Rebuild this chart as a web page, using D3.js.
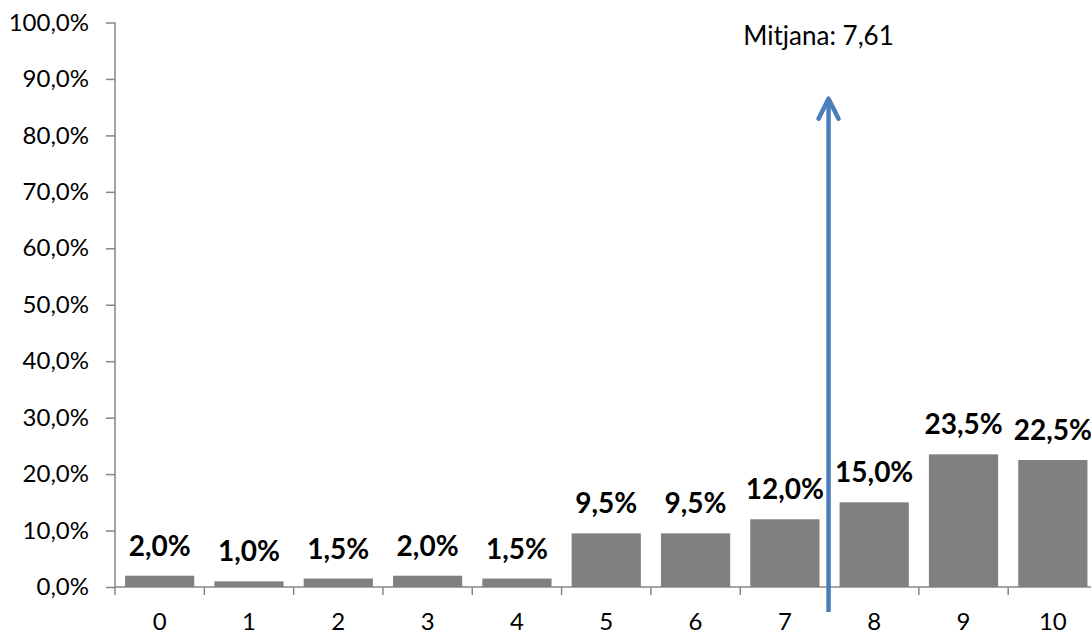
<!DOCTYPE html>
<html>
<head>
<meta charset="utf-8">
<script src="https://cdn.jsdelivr.net/npm/d3@7"></script>
<style>
  body { margin: 0; background: #fff; }
  svg { display: block; font-family: Lato, "Open Sans", sans-serif; }
</style>
</head>
<body>
<svg id="chart" width="1091" height="634"></svg>
<script>
// chart values
var categories = ["0", "1", "2", "3", "4", "5", "6", "7", "8", "9", "10"];
var percents = [2.0, 1.0, 1.5, 2.0, 1.5, 9.5, 9.5, 12.0, 15.0, 23.5, 22.5];
var yTicks = [0, 10, 20, 30, 40, 50, 60, 70, 80, 90, 100];
var meanLabel = "Mitjana: 7,61";
var arrowBetween = ["7", "8"]; // arrow sits on the boundary between these two

var svg = d3.select("#chart"),
    width = +svg.attr("width"),
    height = +svg.attr("height");

var plotLeft = 115, plotRight = 1097.5, plotTop = 22.5, plotBottom = 587;
var axisColor = "#868686";

var locale = d3.formatLocale({decimal: ",", thousands: ".", grouping: [3], currency: ["", "€"]});
var fmt = locale.format(".1f");

var x = d3.scaleBand()
    .domain(categories)
    .range([plotLeft, plotRight])
    .paddingInner(0.225)
    .paddingOuter(0.1125);

var y = d3.scaleLinear()
    .domain([0, 100])
    .range([plotBottom, plotTop]);

var step = x.step();
var gap = x.paddingInner() * step / 2;

// y axis
var yAxis = svg.append("g")
    .attr("transform", "translate(" + plotLeft + ",0)")
    .call(d3.axisLeft(y).tickValues(yTicks).tickSize(9).tickSizeOuter(0).tickPadding(17)
      .tickFormat(function(d) { return fmt(d) + "%"; }));
yAxis.select(".domain").remove();
yAxis.selectAll(".tick line").attr("stroke", axisColor).attr("stroke-width", 1.5);
yAxis.selectAll(".tick text")
    .attr("fill", "#000")
    .style("font-size", "24px")
    .style("font-family", "Lato, 'Open Sans', sans-serif");

svg.append("line")
    .attr("x1", plotLeft).attr("x2", plotLeft)
    .attr("y1", plotTop).attr("y2", plotBottom + 8)
    .attr("stroke", axisColor).attr("stroke-width", 1.5);

// x axis line and boundary ticks
svg.append("line")
    .attr("x1", plotLeft).attr("x2", plotRight)
    .attr("y1", plotBottom).attr("y2", plotBottom)
    .attr("stroke", axisColor).attr("stroke-width", 1.5);

svg.append("g").selectAll("line")
    .data(categories.slice(1))
    .enter()
    .append("line")
    .attr("x1", function(d) { return x(d) - gap; })
    .attr("x2", function(d) { return x(d) - gap; })
    .attr("y1", plotBottom).attr("y2", plotBottom + 8)
    .attr("stroke", axisColor).attr("stroke-width", 1.5);

svg.append("g").selectAll("text")
    .data(categories)
    .enter()
    .append("text")
    .attr("x", function(d) { return x(d) + x.bandwidth() / 2; })
    .attr("y", 630)
    .attr("text-anchor", "middle")
    .style("font-size", "24px")
    .text(function(d) { return d; });

// bars
var rows = categories.map(function(c, i) { return {cat: c, value: percents[i]}; });

svg.append("g").selectAll("rect")
    .data(rows)
    .enter()
    .append("rect")
    .attr("x", function(d) { return x(d.cat); })
    .attr("y", function(d) { return y(d.value); })
    .attr("width", x.bandwidth())
    .attr("height", function(d) { return y(0) - y(d.value); })
    .attr("fill", "#808080");

svg.append("g").selectAll("text")
    .data(rows)
    .enter()
    .append("text")
    .attr("x", function(d) { return x(d.cat) + x.bandwidth() / 2; })
    .attr("y", function(d) { return y(d.value) - 20; })
    .attr("text-anchor", "middle")
    .style("font-size", "28px")
    .style("font-weight", "bold")
    .text(function(d) { return fmt(d.value) + "%"; });

// mean arrow
var ax = x(arrowBetween[1]) - gap - 1;
var tipY = y(86.5);
var arrowColor = "#4a7ebb";

svg.append("line")
    .attr("x1", ax).attr("x2", ax)
    .attr("y1", plotBottom + 25).attr("y2", tipY + 2)
    .attr("stroke", arrowColor).attr("stroke-width", 4.5);

svg.append("path")
    .attr("d", d3.line()([[ax - 10, tipY + 20], [ax, tipY], [ax + 10, tipY + 20]]))
    .attr("fill", "none")
    .attr("stroke", arrowColor)
    .attr("stroke-width", 4.5)
    .attr("stroke-linecap", "round")
    .attr("stroke-linejoin", "round");

svg.append("text")
    .attr("x", ax - 10)
    .attr("y", 45)
    .attr("text-anchor", "middle")
    .style("font-size", "26px")
    .text(meanLabel);
</script>
</body>
</html>
